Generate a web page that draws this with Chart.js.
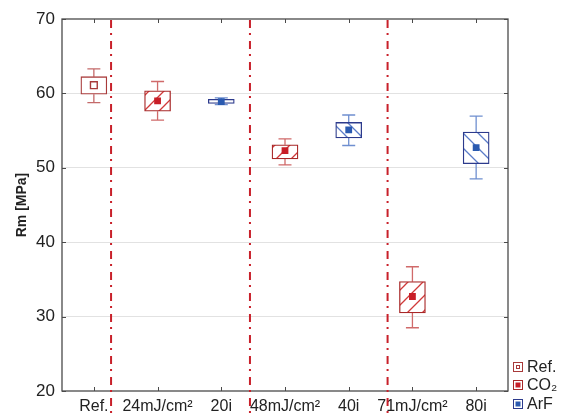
<!DOCTYPE html>
<html>
<head>
<meta charset="utf-8">
<script src="https://cdn.jsdelivr.net/npm/chart.js@4"></script>
<style>
  html, body { margin: 0; padding: 0; background: #fff; }
  #wrap { width: 561px; height: 415px; }
</style>
</head>
<body>
<div id="wrap"><canvas id="rmChart" width="561" height="415"></canvas></div>
<script>
/* ===== DATA ===== */
const categories = ['Ref.', '24mJ/cm²', '20i', '48mJ/cm²', '40i', '71mJ/cm²', '80i'];
const groupOf = ['Ref.', 'CO₂', 'ArF', 'CO₂', 'ArF', 'CO₂', 'ArF'];
const groupNames = ['Ref.', 'CO₂', 'ArF'];
const meanValues = [61.1, 59.0, 58.9, 52.3, 55.1, 32.7, 52.7];
const boxLow = [59.9, 57.6, 58.65, 51.2, 54.0, 30.5, 50.55];
const boxHigh = [62.25, 60.35, 59.2, 53.1, 56.1, 34.7, 54.8];
const whiskerLow = [58.75, 56.4, 58.5, 50.4, 53.0, 28.5, 48.5];
const whiskerHigh = [63.3, 61.6, 59.4, 53.9, 57.1, 36.7, 56.95];
const separatorPositions = [0.27, 2.45, 4.61];
const yTicks = [20, 30, 40, 50, 60, 70];

/* ===== STYLES ===== */
const groupStyle = {
    'Ref.': { box: '#a83a3a', whisker: '#c46a6a', hatch: null, dir: 0, marker: '#a83a3a', hollow: true },
    'CO₂': { box: '#a82828', whisker: '#d06a6a', hatch: '#d03a3a', dir: 1, marker: '#c81e28', hollow: false },
    'ArF': { box: '#2c3a8c', whisker: '#6f8fd0', hatch: '#5a7cc8', dir: -1, marker: '#2a5ab0', hollow: false }
};

function makeHatch(color, dir) {
    const s = 15;
    const c = document.createElement('canvas');
    c.width = s; c.height = s;
    const g = c.getContext('2d');
    g.fillStyle = '#fff';
    g.fillRect(0, 0, s, s);
    g.strokeStyle = color;
    g.lineWidth = 1.3;
    g.beginPath();
    if (dir > 0) {
        g.moveTo(-1, s + 1); g.lineTo(s + 1, -1);
        g.moveTo(-1, 1); g.lineTo(1, -1);
        g.moveTo(s - 1, s + 1); g.lineTo(s + 1, s - 1);
    } else {
        g.moveTo(-1, -1); g.lineTo(s + 1, s + 1);
        g.moveTo(s - 1, -1); g.lineTo(s + 1, 1);
        g.moveTo(-1, s - 1); g.lineTo(1, s + 1);
    }
    g.stroke();
    return document.getElementById('rmChart').getContext('2d').createPattern(c, 'repeat');
}

function pick(arr, name) {
    return arr.map((v, i) => groupOf[i] === name ? v : null);
}

/* ===== DATASETS ===== */
const datasets = [];
groupNames.forEach(name => {
    const st = groupStyle[name];
    datasets.push({
        type: 'bar',
        label: name,
        data: categories.map((c, i) => groupOf[i] === name ? [boxLow[i], boxHigh[i]] : null),
        backgroundColor: st.hatch ? makeHatch(st.hatch, st.dir) : '#fff',
        borderColor: st.box,
        borderWidth: 1.3,
        borderSkipped: false,
        barThickness: 26,
        grouped: false,
        order: 2
    });
});
groupNames.forEach(name => {
    const st = groupStyle[name];
    datasets.push({
        type: 'line',
        label: name + ' mean',
        data: pick(meanValues, name),
        showLine: false,
        pointStyle: 'rect',
        pointRadius: 4.8,
        pointBackgroundColor: st.hollow ? '#fff' : st.marker,
        pointBorderColor: st.marker,
        pointBorderWidth: st.hollow ? 1.4 : 0,
        order: 1
    });
});

/* ===== PLUGINS ===== */
const whiskerPlugin = {
    id: 'whiskers',
    beforeDatasetsDraw(chart) {
        const { ctx, scales: { x, y } } = chart;
        ctx.save();
        ctx.lineWidth = 1.3;
        categories.forEach((c, i) => {
            const st = groupStyle[groupOf[i]];
            const px = x.getPixelForValue(i);
            const yLo = y.getPixelForValue(whiskerLow[i]);
            const yHi = y.getPixelForValue(whiskerHigh[i]);
            const bLo = y.getPixelForValue(boxLow[i]);
            const bHi = y.getPixelForValue(boxHigh[i]);
            ctx.strokeStyle = st.whisker;
            ctx.beginPath();
            ctx.moveTo(px, yLo); ctx.lineTo(px, bLo);
            ctx.moveTo(px, bHi); ctx.lineTo(px, yHi);
            ctx.moveTo(px - 6.5, yLo); ctx.lineTo(px + 6.5, yLo);
            ctx.moveTo(px - 6.5, yHi); ctx.lineTo(px + 6.5, yHi);
            ctx.stroke();
        });
        ctx.restore();
    }
};

const framePlugin = {
    id: 'frame',
    afterDraw(chart) {
        const { ctx, chartArea: a, scales: { x, y } } = chart;
        ctx.save();
        // frame
        ctx.strokeStyle = '#4a4a4a';
        ctx.lineWidth = 1.3;
        ctx.strokeRect(a.left, a.top, a.right - a.left, a.bottom - a.top);
        // inward ticks
        ctx.lineWidth = 1;
        ctx.beginPath();
        categories.forEach((c, i) => {
            const px = Math.round(x.getPixelForValue(i)) + 0.5;
            ctx.moveTo(px, a.bottom); ctx.lineTo(px, a.bottom - 4);
            ctx.moveTo(px, a.top); ctx.lineTo(px, a.top + 4);
        });
        yTicks.forEach(v => {
            const py = Math.round(y.getPixelForValue(v)) + 0.5;
            ctx.moveTo(a.left, py); ctx.lineTo(a.left + 4, py);
            ctx.moveTo(a.right, py); ctx.lineTo(a.right - 4, py);
        });
        ctx.stroke();
        // dash-dot separators
        ctx.strokeStyle = '#c8202a';
        ctx.lineWidth = 2;
        ctx.setLineDash([8, 5, 2, 6]);
        separatorPositions.forEach(p => {
            const px = x.getPixelForValue(p);
            ctx.beginPath();
            ctx.moveTo(px, a.top + 1);
            ctx.lineTo(px, chart.height);
            ctx.stroke();
        });
        ctx.setLineDash([]);
        // legend
        const lx = 513;
        const ly = [367, 385, 404];
        ctx.font = '16px "Liberation Sans", Arial, sans-serif';
        ctx.textBaseline = 'middle';
        groupNames.forEach((name, k) => {
            const st = groupStyle[name];
            ctx.strokeStyle = st.box;
            ctx.lineWidth = 1;
            ctx.strokeRect(lx + 0.5, ly[k] - 4.5, 9, 9);
            if (st.hollow) {
                ctx.strokeStyle = st.marker;
                ctx.strokeRect(lx + 3.5, ly[k] - 1.5, 3, 3);
            } else {
                ctx.fillStyle = st.marker;
                ctx.fillRect(lx + 2.5, ly[k] - 2.5, 5, 5);
            }
            ctx.fillStyle = '#222';
            ctx.fillText(name, lx + 14, ly[k] + 1);
        });
        ctx.restore();
    }
};

/* ===== CHART ===== */
new Chart(document.getElementById('rmChart').getContext('2d'), {
    type: 'bar',
    data: { labels: categories, datasets: datasets },
    options: {
        responsive: false,
        animation: false,
        layout: { padding: { top: 19, right: 53, left: 0, bottom: 0 } },
        plugins: {
            legend: { display: false },
            tooltip: { enabled: false }
        },
        scales: {
            x: {
                offset: true,
                grid: { display: false, drawTicks: false },
                border: { display: false },
                ticks: {
                    padding: 6,
                    maxRotation: 0,
                    autoSkip: false,
                    color: '#222',
                    font: { family: '"Liberation Sans", Arial, sans-serif', size: 16 }
                },
                afterFit(scale) { scale.height = 24; }
            },
            y: {
                min: 20,
                max: 70,
                afterBuildTicks(scale) { scale.ticks = yTicks.map(v => ({ value: v })); },
                grid: {
                    color: ctx => (ctx.tick && (ctx.tick.value === 20 || ctx.tick.value === 70)) ? 'rgba(0,0,0,0)' : '#e2e2e2',
                    lineWidth: 1,
                    drawTicks: false
                },
                border: { display: false },
                ticks: {
                    padding: 7,
                    color: '#222',
                    font: { family: '"Liberation Sans", Arial, sans-serif', size: 17 }
                },
                title: {
                    display: true,
                    text: 'Rm [MPa]',
                    color: '#222',
                    padding: { top: 14, bottom: 0 },
                    font: { family: '"Liberation Sans", Arial, sans-serif', size: 14, weight: 'bold' }
                },
                afterFit(scale) { scale.width = 62; }
            }
        }
    },
    plugins: [whiskerPlugin, framePlugin]
});
</script>
</body>
</html>
